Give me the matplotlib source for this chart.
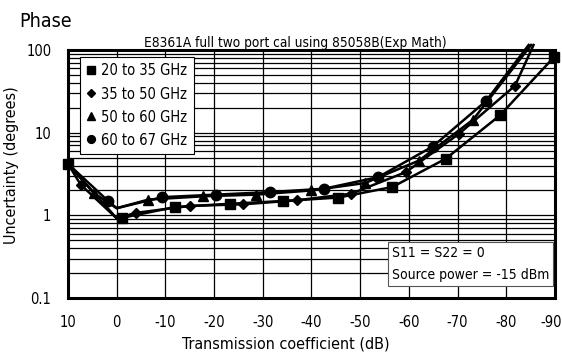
import numpy as np
import matplotlib.pyplot as plt
import matplotlib.transforms as mtransforms
from matplotlib import font_manager

# ---------------------------
# Fonte condensada
# ---------------------------
nomes = {f.name for f in font_manager.fontManager.ttflist}
if "Liberation Sans Narrow" in nomes:
    plt.rcParams["font.family"] = ["Liberation Sans Narrow", "DejaVu Sans"]
else:
    plt.rcParams["font.family"] = ["DejaVu Sans"]
    plt.rcParams["font.stretch"] = "condensed"

# ---------------------------
# Dados (pontos marcados de cada faixa)
# ---------------------------
sq_x = [10, -1, -12, -23.3, -34.2, -45.5, -56.6, -67.6, -78.7, -89.8]
sq_y = [4.2, 0.93, 1.26, 1.38, 1.49, 1.64, 2.2, 4.85, 16.2, 82]

di_x = [7.4, -3.9, -15, -26, -37, -48.2, -59.4, -70.3, -81.8]
di_y = [2.35, 1.07, 1.3, 1.36, 1.52, 1.83, 3.34, 9.7, 37]

tr_x = [4.7, -6.5, -17.8, -28.7, -40, -51, -62.1, -73.2]
tr_y = [1.86, 1.55, 1.70, 1.78, 2.0, 2.46, 4.6, 14.4]

ci_x = [1.7, -9.4, -20.4, -31.5, -42.6, -53.7, -64.9, -75.8]
ci_y = [1.48, 1.66, 1.78, 1.91, 2.1, 2.9, 6.8, 24]

# inicio comum, minimo em 0 dB e saida pelo topo
inicio = (10, 4.2)
minimo_baixo = 0.92
minimo_alto = 1.22
fim_di = (-85.6, 115)
fim_tr = (-85.1, 115)
fim_ci = (-84.6, 115)

faixas = ["20 to 35 GHz", "35 to 50 GHz", "50 to 60 GHz", "60 to 67 GHz"]
xticks = [10, 0, -10, -20, -30, -40, -50, -60, -70, -80, -90]


def montar_curva(xs, ys, minimo, fim=None):
    pts = [inicio, (0, minimo)] + list(zip(xs, ys))
    if fim is not None:
        pts.append(fim)
    pts = sorted(set(pts), key=lambda p: -p[0])
    return [p[0] for p in pts], [p[1] for p in pts]


fig = plt.figure(figsize=(5.62, 3.52), dpi=100)
ax = fig.add_axes([0.121, 0.1534, 0.8665, 0.7046])

series = [
    (sq_x, sq_y, minimo_baixo, None, "s", 7.5),
    (di_x, di_y, minimo_baixo, fim_di, "D", 5.5),
    (tr_x, tr_y, minimo_alto, fim_tr, "^", 7),
    (ci_x, ci_y, minimo_alto, fim_ci, "o", 7.5),
]

for (xs, ys, mn, fim, mk, ms), nome in zip(series, faixas):
    lx, ly = montar_curva(xs, ys, mn, fim)
    ax.plot(lx, ly, color="black", lw=1.8, clip_on=False, zorder=3,
            solid_joinstyle="round")
    ax.plot(xs, ys, ls="none", marker=mk, ms=ms, color="black",
            clip_on=False, zorder=4)
    ax.plot([], [], ls="none", marker=mk, ms=ms * 0.75, color="black", label=nome)

ax.set_yscale("log")
ax.set_xlim(10, -90)
ax.set_ylim(0.1, 100)
ax.set_xticks(xticks)
ax.set_xticklabels([str(t) for t in xticks])
ax.set_yticks([0.1, 1, 10, 100])
ax.set_yticklabels(["0.1", "1", "10", "100"])
ax.tick_params(axis="both", which="both", length=0, labelsize=10.5)
ax.tick_params(axis="x", pad=12)
ax.tick_params(axis="y", pad=12)

# ultimo rotulo do eixo x um pouco para dentro
rot_ultimo = ax.get_xticklabels()[-1]
rot_ultimo.set_transform(rot_ultimo.get_transform() +
                         mtransforms.ScaledTranslation(-4 / 100, 0, fig.dpi_scale_trans))

ax.grid(True, which="major", axis="both", color="black", lw=0.9)
ax.grid(True, which="minor", axis="y", color="black", lw=0.9)
for s in ax.spines.values():
    s.set_linewidth(2.2)

ax.set_xlabel("Transmission coefficient (dB)", fontsize=11.5, labelpad=2)
ax.xaxis.set_label_coords(0.448, -0.155)
ax.set_ylabel("Uncertainty (degrees)", fontsize=11.5)
ax.yaxis.set_label_coords(-0.1, 0.536)
ax.set_title("E8361A full two port cal using 85058B(Exp Math)", fontsize=9.8,
             pad=2, x=0.466)
fig.text(0.034, 0.923, "Phase", fontsize=14, va="baseline")

leg = ax.legend(loc="upper left", bbox_to_anchor=(0.025, 0.972), fontsize=10.5,
                frameon=True, fancybox=False, handlelength=0.6, handletextpad=0.4,
                labelspacing=0.55, borderpad=0.45, borderaxespad=0,
                edgecolor="black", framealpha=1)
leg.get_frame().set_linewidth(0.8)
leg.set_zorder(5)

ax.text(0.665, 0.065, "S11 = S22 = 0\nSource power = -15 dBm", transform=ax.transAxes,
        fontsize=10, va="bottom", ha="left", linespacing=1.7, zorder=5,
        bbox=dict(boxstyle="square,pad=0.3", fc="white", ec="#555555", lw=0.8))

fig.savefig("out.png", dpi=100)
